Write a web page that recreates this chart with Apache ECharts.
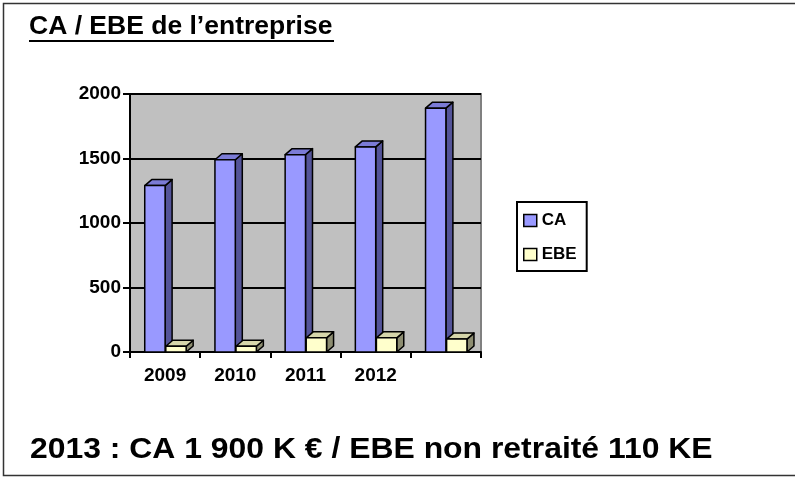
<!DOCTYPE html>
<html>
<head>
<meta charset="utf-8">
<script src="https://cdn.jsdelivr.net/npm/echarts@6/dist/echarts.min.js"></script>
<style>
  html, body { margin: 0; padding: 0; background: #fff; }
  #chart { width: 795px; height: 477px; }
</style>
</head>
<body>
<div id="chart"></div>
<script>
// categories (the last year has no label on the axis)
var years = ['2009', '2010', '2011', '2012', ''];
var caValues = [1290, 1490, 1530, 1590, 1890];
var ebeValues = [45, 45, 110, 110, 100];
var yTicks = [0, 500, 1000, 1500, 2000];

var labelFont = 'Liberation Sans, Arial, sans-serif';

// 3D-looking bar: front face, right side and top
function bar3d(shift, front, side, top) {
  return function (params, api) {
    var p = api.coord([api.value(0), api.value(1)]);
    var b = api.coord([api.value(0), 0]);
    var band = api.size([1, 0])[0];
    var w = band * 0.29, dx = 7, dy = 6;
    var x = p[0] + shift * band;
    var y0 = p[1], y1 = b[1];
    var line = { stroke: '#000', lineWidth: 1.5, lineJoin: 'round' };
    return {
      type: 'group',
      children: [{
        type: 'polygon',
        shape: { points: [[x + w, y0], [x + w + dx, y0 - dy], [x + w + dx, y1 - dy], [x + w, y1]] },
        style: Object.assign({ fill: side }, line)
      }, {
        type: 'polygon',
        shape: { points: [[x, y0], [x + dx, y0 - dy], [x + w + dx, y0 - dy], [x + w, y0]] },
        style: Object.assign({ fill: top }, line)
      }, {
        type: 'rect',
        shape: { x: x, y: y0, width: w, height: y1 - y0 },
        style: Object.assign({ fill: front }, line)
      }]
    };
  };
}

var myChart = echarts.init(document.getElementById('chart'));
var option = {
  animation: false,
  backgroundColor: '#fff',
  grid: {
    left: 130, right: 314, top: 94, bottom: 125,
    show: true,
    backgroundColor: '#C0C0C0',
    borderColor: '#808080',
    borderWidth: 2
  },
  legend: {
    orient: 'vertical',
    left: 517, top: 202,
    padding: [10, 10, 8, 6],
    borderColor: '#000', borderWidth: 2,
    itemWidth: 13, itemHeight: 12, itemGap: 17,
    icon: 'rect',
    itemStyle: { borderColor: '#000', borderWidth: 1.5 },
    textStyle: { fontFamily: labelFont, fontWeight: 'bold', fontSize: 17, color: '#000' },
    data: ['CA', 'EBE']
  },
  xAxis: {
    type: 'category',
    data: years,
    axisLine: { lineStyle: { color: '#000', width: 2 } },
    axisTick: { show: true, length: 6, lineStyle: { color: '#000', width: 2 } },
    axisLabel: { fontFamily: labelFont, fontWeight: 'bold', fontSize: 19, color: '#000', margin: 14 },
    splitLine: { show: false }
  },
  yAxis: {
    type: 'value',
    min: 0, max: 2000, interval: 500,
    axisLine: { show: true, lineStyle: { color: '#000', width: 2 } },
    axisTick: { show: true, length: 7, lineStyle: { color: '#000', width: 2 } },
    axisLabel: {
      fontFamily: labelFont, fontWeight: 'bold', fontSize: 19, color: '#000', margin: 9,
      formatter: function (v) { return yTicks.indexOf(v) >= 0 ? String(v) : ''; }
    },
    splitLine: { show: true, lineStyle: { color: '#000', width: 2 } }
  },
  series: [{
    name: 'CA',
    type: 'custom',
    itemStyle: { color: '#9999FF' },
    renderItem: bar3d(-0.29, '#9999FF', '#545499', '#7B7BD6'),
    encode: { x: 0, y: 1 },
    data: caValues.map(function (v, i) { return [i, v]; }),
    z: 2
  }, {
    name: 'EBE',
    type: 'custom',
    itemStyle: { color: '#FFFFCC' },
    renderItem: bar3d(0.01, '#FFFFCC', '#8C8C70', '#D6D6AA'),
    encode: { x: 0, y: 1 },
    data: ebeValues.map(function (v, i) { return [i, v]; }),
    z: 3
  }],
  graphic: [{
    type: 'rect',
    shape: { x: 3.5, y: 3.5, width: 800, height: 472 },
    style: { fill: 'none', stroke: '#333', lineWidth: 1.5 },
    silent: true
  }, {
    type: 'text',
    x: 29, y: 15,
    scaleX: 1.06,
    style: { text: 'CA / EBE de l\u2019entreprise', font: 'bold 25px ' + labelFont, fill: '#000' }
  }, {
    type: 'line',
    shape: { x1: 29, y1: 41, x2: 334, y2: 41 },
    style: { stroke: '#000', lineWidth: 2 }
  }, {
    type: 'text',
    x: 30, y: 435,
    scaleX: 1.1,
    style: { text: '2013 : CA 1 900 K \u20ac / EBE non retrait\u00e9 110 KE', font: 'bold 29px ' + labelFont, fill: '#000' }
  }]
};
myChart.setOption(option);
</script>
</body>
</html>
